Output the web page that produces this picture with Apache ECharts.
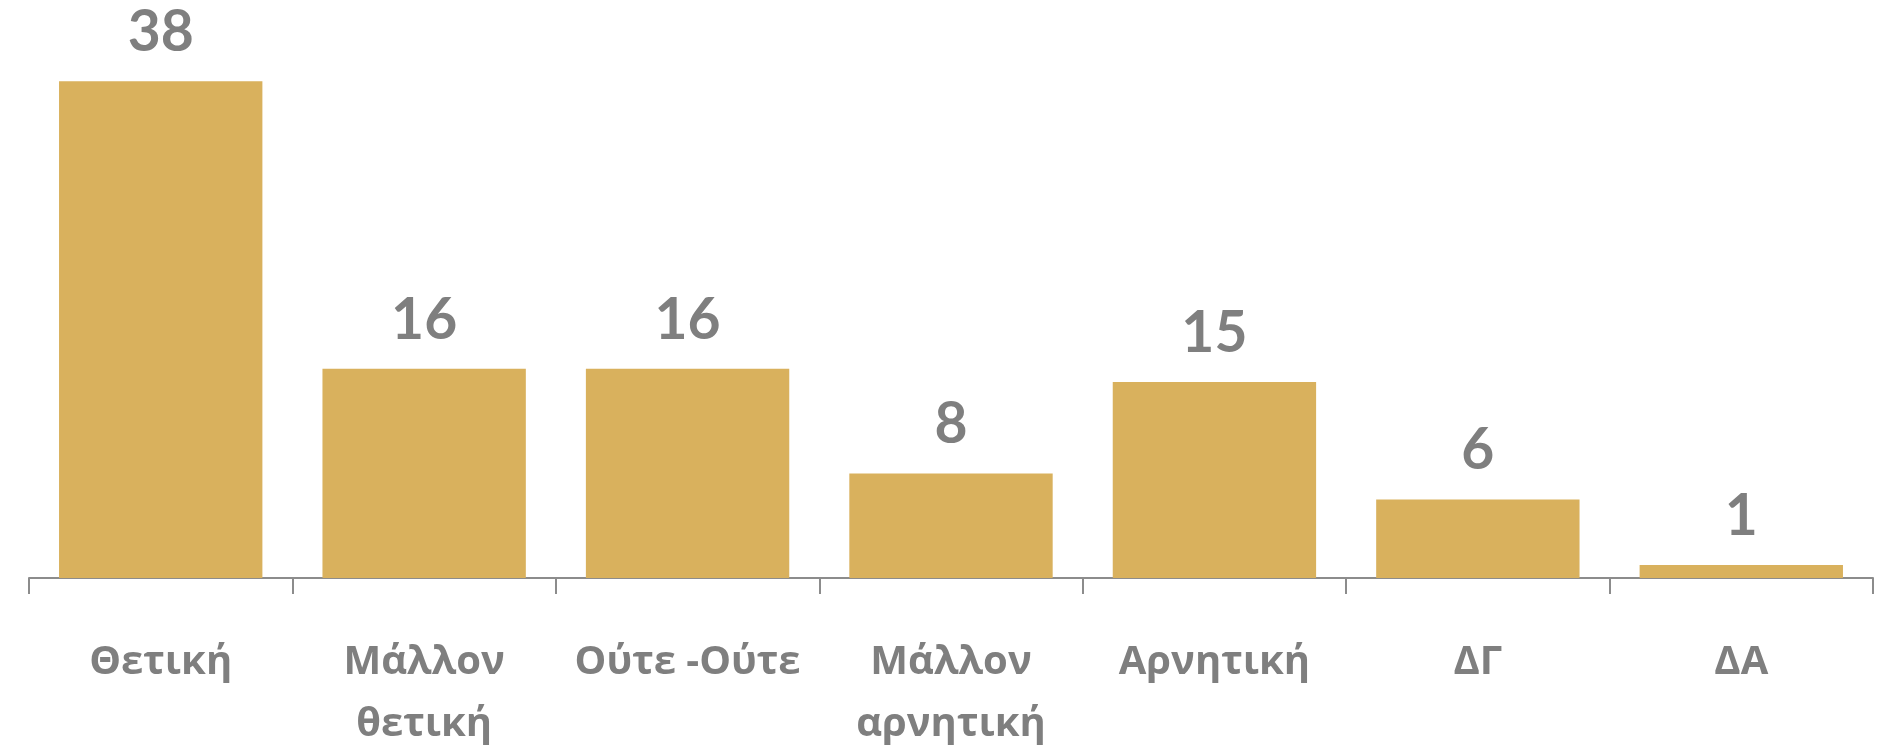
<!DOCTYPE html>
<html>
<head>
<meta charset="utf-8">
<script src="https://cdn.jsdelivr.net/npm/echarts@6/dist/echarts.min.js"></script>
<style>
    html, body { margin: 0; padding: 0; background: #fff; }
    #chart { width: 1878px; height: 756px; }
</style>
</head>
<body>
<div id="chart"></div>
<script>
    // κατηγορίες και τιμές
    const categories = ['Θετική', 'Μάλλον\nθετική', 'Ούτε -Ούτε', 'Μάλλον\nαρνητική', 'Αρνητική', 'ΔΓ', 'ΔΑ']
    const values = [38, 16, 16, 8, 15, 6, 1]

    const barColor = '#D9B15D'
    const greyText = '#7F7F7F'
    const axisColor = '#8C8C8C'

    const myChart = echarts.init(document.getElementById('chart'))

    const option = {
        animation: false,
        grid: {
            left: 29,
            right: 5,
            top: 55,
            bottom: 168
        },
        xAxis: {
            type: 'category',
            data: categories,
            axisLine: {
                lineStyle: { color: axisColor, width: 2 }
            },
            axisTick: {
                show: true,
                alignWithLabel: false,
                length: 16,
                lineStyle: { color: axisColor, width: 2 }
            },
            axisLabel: {
                interval: 0,
                margin: 54,
                color: greyText,
                fontFamily: 'Open Sans',
                fontWeight: 'bold',
                fontSize: 40,
                lineHeight: 62
            }
        },
        yAxis: {
            type: 'value',
            min: 0,
            max: 40,
            show: false,
            splitLine: { show: false }
        },
        series: [{
            type: 'bar',
            data: values,
            barCategoryGap: '22.8%',
            itemStyle: { color: barColor },
            label: {
                show: true,
                position: 'top',
                distance: 20,
                color: greyText,
                fontFamily: 'Lato',
                fontWeight: 'bold',
                fontSize: 57
            }
        }]
    }

    myChart.setOption(option)
</script>
</body>
</html>
